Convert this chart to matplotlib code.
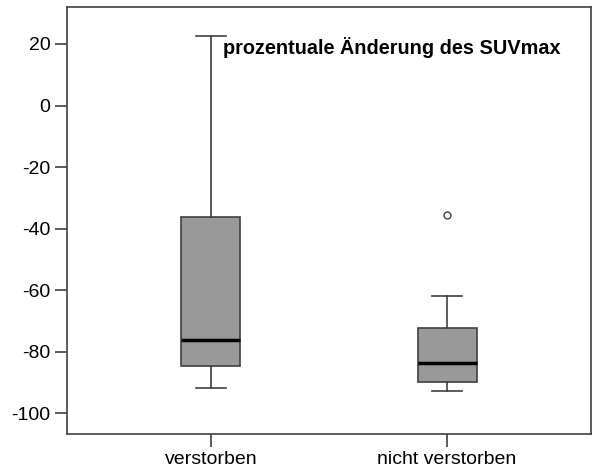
import matplotlib
matplotlib.use("Agg")
import matplotlib.pyplot as plt

plt.rcParams['font.family'] = ['Liberation Sans', 'DejaVu Sans']
plt.rcParams['axes.unicode_minus'] = False

groups = ['verstorben', 'nicht verstorben']
whisker_low = [-91.7, -92.7]
q1 = [-84.6, -89.7]
median = [-76.2, -83.5]
q3 = [-36.2, -72.2]
whisker_high = [22.7, -62.0]
outliers = [[], [-35.6]]
title = 'prozentuale Änderung des SUVmax'

stats = []
for i in range(len(groups)):
    stats.append(dict(label=groups[i], whislo=whisker_low[i], q1=q1[i], med=median[i],
                      q3=q3[i], whishi=whisker_high[i], fliers=outliers[i]))

fig = plt.figure(figsize=(5.93, 4.70), dpi=100)
ax = fig.add_axes([67 / 593, 1 - 434 / 470, 524 / 593, 427 / 470])

edge = '#404040'
ax.bxp(stats, positions=[1, 2], widths=0.25, patch_artist=True,
       boxprops=dict(facecolor='#999999', edgecolor=edge, linewidth=1.2),
       medianprops=dict(color='black', linewidth=2.5),
       whiskerprops=dict(color=edge, linewidth=1.2),
       capprops=dict(color=edge, linewidth=1.2),
       capwidths=0.125,
       flierprops=dict(marker='o', markersize=5, markerfacecolor='white',
                       markeredgecolor=edge, markeredgewidth=1))

ax.set_xlim(0.39, 2.61)
ax.set_ylim(-106.7, 32)
ax.set_yticks([20, 0, -20, -40, -60, -80, -100])
ax.set_xticks([1, 2])
ax.set_xticklabels(groups)
ax.tick_params(axis='both', length=9, width=1.2, color=edge, labelsize=14, pad=3)
for s in ax.spines.values():
    s.set_color(edge)
    s.set_linewidth(1.2)

# title sits inside the plot area, right of the first whisker
ax.text(1.05, 18.7, title, fontsize=14.3, fontweight='bold', va='center', ha='left')

fig.savefig('out.png', dpi=100)
